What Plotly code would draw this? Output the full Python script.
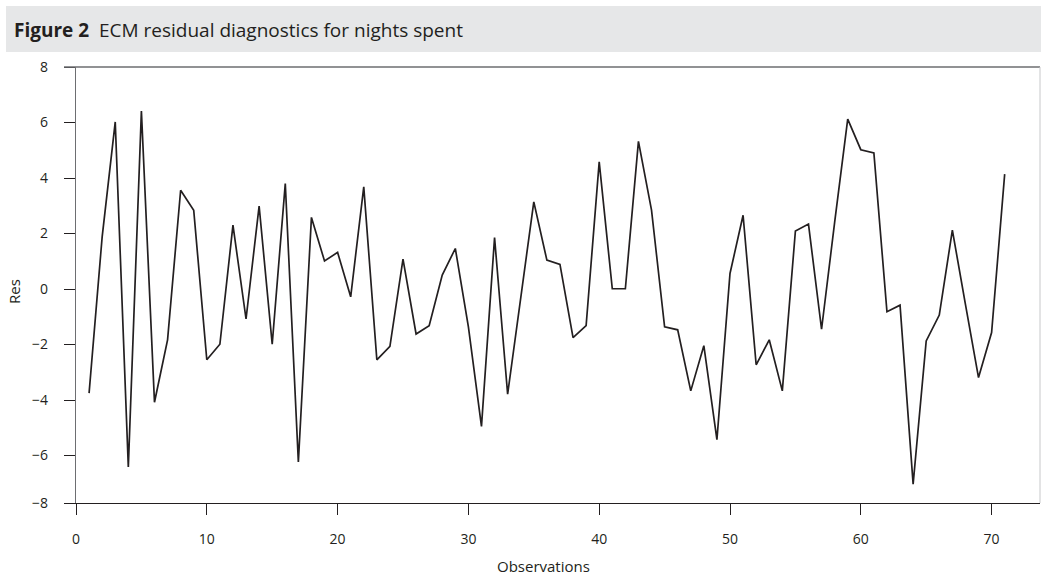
import plotly.graph_objects as go

# Data
observations = list(range(1, 72))
residuals = [
    -3.75, 1.88, 6.02, -6.41, 6.41, -4.08, -1.83, 3.56, 2.84, -2.55,
    -1.99, 2.30, -1.08, 2.99, -1.99, 3.80, -6.23, 2.58, 1.01, 1.32,
    -0.28, 3.68, -2.55, -2.07, 1.08, -1.62, -1.32, 0.50, 1.46, -1.36,
    -4.95, 1.85, -3.79, -0.40, 3.14, 1.04, 0.89, -1.75, -1.32, 4.58,
    0.01, 0.01, 5.32, 2.84, -1.36, -1.47, -3.67, -2.04, -5.43, 0.56,
    2.66, -2.73, -1.83, -3.67, 2.09, 2.34, -1.45, 2.40, 6.12, 5.02,
    4.90, -0.82, -0.58, -7.03, -1.87, -0.94, 2.12, -0.55, -3.19, -1.57,
    4.14,
]
x_ticks = [0, 10, 20, 30, 40, 50, 60, 70]
y_tick_vals = [-7.71, -6, -4, -2, 0, 2, 4, 6, 8]
y_tick_text = ["\u22128", "\u22126", "\u22124", "\u22122", "0", "2", "4", "6", "8"]

title_text = "<b>Figure 2</b>\u00a0\u00a0ECM residual diagnostics for nights spent"

W, H = 1041, 576
L, R, T, B = 76, 1, 67, 73
pw = W - L - R
ph = H - T - B

def px_x(p):
    return (p - L) / pw

def px_y(p):
    return (H - B - p) / ph

fig = go.Figure()
fig.add_trace(go.Scatter(
    x=observations, y=residuals, mode="lines",
    line=dict(color="#231f20", width=1.7),
    hoverinfo="x+y", showlegend=False,
))

font_family = "Open Sans, Noto Sans, sans-serif"

fig.update_layout(
    width=W, height=H,
    margin=dict(l=L, r=R, t=T, b=B, pad=0),
    paper_bgcolor="white", plot_bgcolor="white",
    font=dict(family=font_family, size=14, color="#231f20"),
    xaxis=dict(
        range=[0, 73.7], tickvals=x_ticks, ticks="outside", ticklen=11,
        tickcolor="#231f20", tickwidth=1, showgrid=False, zeroline=False,
        showline=True, linecolor="#231f20", linewidth=1.2,
        ticklabelstandoff=12, tickfont=dict(size=14),
    ),
    yaxis=dict(
        range=[-7.71, 8], tickvals=y_tick_vals, ticktext=y_tick_text,
        ticks="outside", ticklen=11, tickcolor="#231f20", tickwidth=1,
        showgrid=False, zeroline=False, showline=True,
        linecolor="#6d6e71", linewidth=1.2,
        ticklabelstandoff=13, tickfont=dict(size=14),
    ),
    shapes=[
        # header band
        dict(type="rect", xref="paper", yref="paper",
             x0=px_x(6), x1=px_x(1041), y0=px_y(52), y1=px_y(6),
             fillcolor="#e6e7e8", line=dict(width=0), layer="below"),
        # top frame line
        dict(type="line", xref="paper", yref="paper",
             x0=px_x(64), x1=1, y0=1, y1=1,
             line=dict(color="#6d6e71", width=1.5)),
        # right frame line
        dict(type="line", xref="paper", yref="paper",
             x0=1, x1=1, y0=0, y1=1,
             line=dict(color="#c7c8ca", width=1)),
    ],
    annotations=[
        dict(text=title_text, xref="paper", yref="paper",
             x=px_x(12), y=px_y(30), xanchor="left", yanchor="middle",
             showarrow=False, font=dict(size=19, color="#231f20")),
        dict(text="Observations", xref="paper", yref="paper",
             x=px_x(543), y=px_y(566), xanchor="center", yanchor="middle",
             showarrow=False, font=dict(size=15)),
        dict(text="Res", xref="paper", yref="paper",
             x=px_x(14), y=px_y(292), xanchor="center", yanchor="middle",
             textangle=-90, showarrow=False, font=dict(size=15)),
    ],
)

fig.write_html(
    "out.html",
    config={"displayModeBar": False},
    post_script="document.body.style.margin='0';document.body.style.overflow='hidden';",
)
